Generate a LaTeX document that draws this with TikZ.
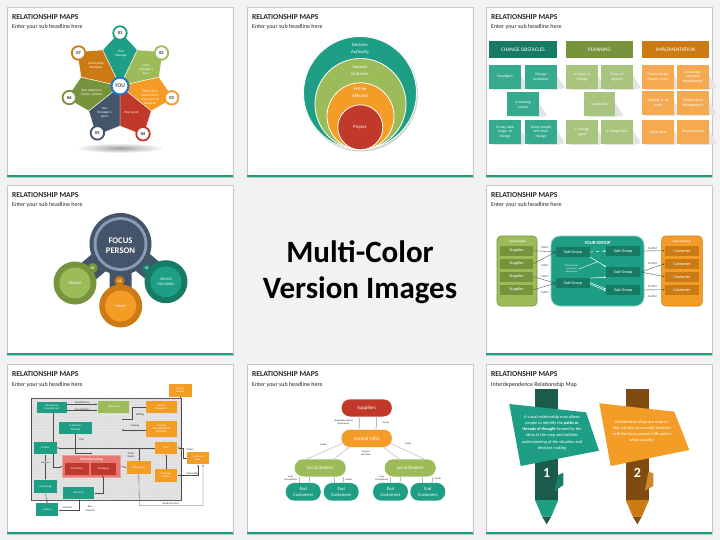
\documentclass[tikz,border=0pt]{standalone}
\usepackage{fontspec}
\setmainfont{Carlito}
\usetikzlibrary{arrows.meta,patterns}
\definecolor{bgc}{HTML}{F2F2F2}
\definecolor{cteal}{HTML}{1E9E84}
\definecolor{cdteal}{HTML}{167A65}
\definecolor{cvdteal}{HTML}{1B5B4C}
\definecolor{clgreen}{HTML}{9CBB59}
\definecolor{colive}{HTML}{77933C}
\definecolor{corange}{HTML}{F39C26}
\definecolor{cdorange}{HTML}{CC7A14}
\definecolor{cred}{HTML}{C0392B}
\definecolor{cnavy}{HTML}{44546A}
\definecolor{cslate}{HTML}{8A9BB5}
\definecolor{cbrown}{HTML}{7E4B10}
\definecolor{cblue}{HTML}{1F78C8}
\definecolor{cstripe}{HTML}{1BA085}
\definecolor{csalmon}{HTML}{E57872}
\definecolor{cpgreen}{HTML}{A9C47F}
\definecolor{cpteal}{HTML}{36AA8E}
\definecolor{cporange}{HTML}{F5AA52}
\definecolor{ctxt}{HTML}{262626}
\newcommand\myfs[2]{\fontsize{#1}{#2}\selectfont}
\newcommand\myslide[4]{%
  \fill[gray!28] (#2+1,#3+1) rectangle (#2+227,#3+171);
  \filldraw[fill=white,draw=gray!45,line width=0.4pt] (#2,#3) rectangle (#2+226,#3+170);
  \fill[cstripe] (#2+0.4,#3+167.6) rectangle (#2+225.6,#3+169.8);
  \node[ttl] (#1t) at (#2+5,#3+12.5) {RELATIONSHIP MAPS};
  \node[sbt] (#1s) at (#2+5,#3+22) {#4};}
\newcommand\cbx[6]{%
  \fill[gray!22] (#2+#4/2,#3-2) -- (#2+#4/2+8,#3+11) -- (#2+#4/2,#3+12.8) -- (#2-#4/2+3,#3+12.8) -- cycle;
  \node[fill=#5, minimum width=#4pt, minimum height=24pt, inner sep=0, text width=28pt, align=center, text=white, font=\myfs{3.7}{4.6}] (#1) at (#2,#3) {#6};}
\begin{document}
\begin{tikzpicture}[x=1pt,y=-1pt,
  ttl/.style={anchor=base west,inner sep=0pt,text=ctxt,font=\myfs{7.6}{8}\bfseries},
  sbt/.style={anchor=base west,inner sep=0pt,text=ctxt,font=\myfs{6}{7}},
  wt/.style={text=white,align=center,inner sep=0pt},
  numc/.style={circle,fill=white,line width=1.8pt,minimum size=13.5pt,inner sep=0pt,font=\myfs{4.4}{5}\bfseries,text=ctxt},
  lbl/.style={inner sep=0pt,text=ctxt,align=center,font=\myfs{2.6}{3.1}},
  ar/.style={draw=gray!60!black,line width=0.35pt,-{Latex[length=1.8pt,width=1.6pt]}},
  fc/.style={inner sep=0pt,text=white,align=center,font=\myfs{2.7}{3.2}},
  sg/.style={fill=cdteal,minimum width=34pt,minimum height=10pt,wt,font=\myfs{4.2}{5}},
  stad/.style={rounded corners=8.5pt,draw=white,line width=0.5pt,inner sep=0pt,text=white,align=center},
  ln/.style={draw=gray!55,line width=0.5pt}]
\useasboundingbox (0,0) rectangle (720,540);
\fill[bgc] (0,0) rectangle (720,540);

% ---------------- slide frames
\myslide{a}{7}{7}{Enter your sub headline here}
\myslide{b}{247}{7}{Enter your sub headline here}
\myslide{c}{486}{7}{Enter your sub headline here}
\myslide{d}{7}{185}{Enter your sub headline here}
\myslide{f}{486}{185}{Enter your sub headline here}
\myslide{g}{7}{364}{Enter your sub headline here}
\myslide{h}{247}{364}{Enter your sub headline here}
\myslide{i}{486}{364}{Interdependence Relationship Map}

% ---------------- centre text
\node[inner sep=0pt,font=\myfs{31}{36}\bfseries,text=black,anchor=base] (mc1) at (360,262) {Multi-Color};
\node[inner sep=0pt,font=\myfs{31}{36}\bfseries,text=black,anchor=base] (mc2) at (360,298) {Version Images};

% ---------------- slide 1: flower
\shade[inner color=gray!75,outer color=white] (120,148) ellipse (44 and 5);
\begin{scope}[shift={(120,86)},yscale=-1]
  \foreach \a/\c in {90/cteal,38.57/clgreen,-12.86/corange,-64.29/cred,-115.71/cnavy,-167.14/colive,141.43/cdorange}{
    \filldraw[fill=\c,draw=white,line width=0.4pt,line join=round] (0,0) -- (\a+25.71:40) -- (\a+6:49.5) -- (\a-6:49.5) -- (\a-25.71:40) -- cycle;}
  \node[wt,font=\myfs{3.3}{4}] (p1) at (88:32) {Your\\Manager};
  \node[wt,font=\myfs{3.3}{4}] (p2) at (33:31) {Your\\Manager's\\boss};
  \node[wt,font=\myfs{3.3}{4}] (p3) at (-20:32) {Others that\\need to be in\\your circle of\\influence};
  \node[wt,font=\myfs{3.3}{4}] (p4) at (-67:29) {Your peers};
  \node[wt,font=\myfs{3.3}{4}] (p5) at (-120:31) {Your\\Manager's\\peers};
  \node[wt,font=\myfs{3.3}{4}] (p6) at (-167:29) {Your customers,\\clients, vendors};
  \node[wt,font=\myfs{3.3}{4}] (p7) at (139:32) {Community\\Members};
  \node[numc,draw=cteal] (n1) at (90:53) {01};
  \node[numc,draw=clgreen] (n2) at (38.57:53) {02};
  \node[numc,draw=corange] (n3) at (-12.86:53) {03};
  \node[numc,draw=cred] (n4) at (-64.29:53) {04};
  \node[numc,draw=cnavy] (n5) at (-115.71:52) {05};
  \node[numc,draw=colive] (n6) at (-167.14:52) {06};
  \node[numc,draw=cdorange] (n7) at (141.43:53) {07};
  \node[circle,fill=white,draw=cblue,line width=2pt,minimum size=17pt,inner sep=0pt,font=\myfs{5.6}{6}\bfseries,text=cnavy] (you) at (0,0) {YOU};
\end{scope}

% ---------------- slide 2: nested circles
\fill[gray!35] (361,94.5) circle (57);
\filldraw[fill=cteal,draw=white,line width=0.8pt] (360,93) circle (56.5);
\filldraw[fill=clgreen,draw=white,line width=0.8pt] (360.5,104) circle (45.5);
\filldraw[fill=corange,draw=white,line width=0.8pt] (360.5,116.3) circle (33.5);
\filldraw[fill=cred,draw=white,line width=0.8pt] (360.3,127.3) circle (22.5);
\node[wt,font=\myfs{4.6}{7}] (q1) at (360,48.5) {Decision\\Authority};
\node[wt,font=\myfs{4.6}{7}] (q2) at (360,70.5) {Impacts\\Outcome};
\node[wt,font=\myfs{4.6}{7}] (q3) at (360,92.5) {Will be\\Affected};
\node[wt,font=\myfs{4.6}{7}] (q4) at (360,127) {Project};

% ---------------- slide 3: columns
\node[fill=cdteal,minimum width=68pt,minimum height=17pt,wt,font=\myfs{5.3}{6}] (h1) at (523,49.5) {CHANGE OBSTACLES};
\node[fill=colive,minimum width=67pt,minimum height=17pt,wt,font=\myfs{5.3}{6}] (h2) at (599.5,49.5) {PLANNING};
\node[fill=cdorange,minimum width=67pt,minimum height=17pt,wt,font=\myfs{5.3}{6}] (h3) at (675.5,49.5) {IMPLEMENTATION};
\cbx{b11}{505}{77}{31.7}{cpteal}{Paradigms}
\cbx{b12}{541}{77}{31.7}{cpteal}{Change\\resistance}
\cbx{b13}{523}{104.5}{31.7}{cpteal}{A blaming\\culture}
\cbx{b14}{505}{132}{31.7}{cpteal}{It may take\\longer to\\change}
\cbx{b15}{541}{132}{31.7}{cpteal}{Some people\\will never\\change}
\cbx{b21}{582}{77}{31.7}{cpgreen}{A vision to\\change}
\cbx{b22}{617}{77}{31.7}{cpgreen}{Sense of\\urgency}
\cbx{b23}{599.5}{104.5}{31.7}{cpgreen}{Leadership}
\cbx{b24}{582}{132}{31.7}{cpgreen}{A change\\agent}
\cbx{b25}{617}{132}{31.7}{cpgreen}{A change plan}
\cbx{b31}{658}{77}{31.7}{cporange}{Communicate\\Change vision}
\cbx{b32}{693}{77}{31.7}{cporange}{Encourage\\personal\\development}
\cbx{b33}{658}{103}{31.7}{cporange}{Training at all\\levels}
\cbx{b34}{693}{103}{31.7}{cporange}{Performance\\Management}
\cbx{b35}{658}{132}{31.7}{cporange}{Quick Wins}
\cbx{b36}{693}{132}{31.7}{cporange}{Empowerment}

% ---------------- slide 4: focus person
\draw[cnavy,line width=22pt] (120.5,244) -- (75,283);
\draw[cnavy,line width=22pt] (120.5,244) -- (120.7,306);
\draw[cnavy,line width=22pt] (120.5,244) -- (166,281.7);
\fill[cnavy] (120.5,244) circle (31);
\fill[cslate] (120.5,244) circle (27);
\fill[cnavy] (120.5,244) circle (24);
\node[wt,font=\myfs{8.6}{9.5}\bfseries] (fp) at (120.5,245.5) {FOCUS\\PERSON};
\fill[colive] (75,283) circle (21.5);
\fill[clgreen] (75,283) circle (15.5);
\fill[cdorange] (120.7,306) circle (21.5);
\fill[corange] (120.7,306) circle (15.5);
\fill[cdteal] (166,281.7) circle (21.5);
\fill[cteal] (166,281.7) circle (15.5);
\node[wt,font=\myfs{3.6}{4.3}] (fr) at (75,283) {FRIENDS};
\node[wt,font=\myfs{3.6}{4.3}] (fa) at (120.7,306) {FAMILY};
\node[wt,font=\myfs{3.6}{4.3}] (sv) at (166,281.7) {SERVICE\\PROVIDERS};
\node[circle,fill=colive,minimum size=10pt,inner sep=0pt,font=\myfs{3.8}{4}\bfseries,text=white] (bd1) at (92.7,268) {01};
\node[circle,fill=cdorange,minimum size=10pt,inner sep=0pt,font=\myfs{3.8}{4}\bfseries,text=white] (bd2) at (119.5,281) {02};
\node[circle,fill=cdteal,minimum size=10pt,inner sep=0pt,font=\myfs{3.8}{4}\bfseries,text=white] (bd3) at (146.7,268.7) {03};

% ---------------- slide 6: your group
\filldraw[fill=clgreen,draw=colive,line width=0.6pt,rounded corners=4pt] (497,236) rectangle (537,306);
\filldraw[fill=cteal,draw=cteal!50!white,line width=0.8pt,rounded corners=9pt] (551,236) rectangle (644,306);
\filldraw[fill=corange,draw=cdorange,line width=0.6pt,rounded corners=4pt] (661.7,236) rectangle (702.3,306);
\node[wt,font=\myfs{2.4}{3}\bfseries] (ysu) at (517,241.5) {YOUR SUPPLIERS};
\node[wt,font=\myfs{4.6}{5}\bfseries] (ygr) at (597.5,242.7) {YOUR GROUP};
\node[wt,font=\myfs{2.4}{3}\bfseries] (ycu) at (682,241.5) {YOUR CUSTOMERS};
\foreach \i/\yy in {1/250.7,2/263.7,3/276.7,4/289.7}{
  \node[fill=colive,minimum width=33pt,minimum height=10pt,wt,font=\myfs{4.3}{5}] (sp\i) at (516.7,\yy) {Supplier};
  \node[fill=cdorange,minimum width=34pt,minimum height=10pt,wt,font=\myfs{4.3}{5}] (cu\i) at (682,\yy) {Customer};}
\node[sg] (sg1) at (573,252) {Sub-Group};
\node[sg] (sg2) at (623.3,251) {Sub-Group};
\node[sg] (sg3) at (623.3,272) {Sub-Group};
\node[sg] (sg4) at (573,283.3) {Sub-Group};
\node[sg] (sg5) at (623.3,290) {Sub-Group};
\node[wt,font=\myfs{2.4}{3}] (rel) at (571.7,269.3) {Relationships\\inside your\\department};
\draw[white,line width=0.5pt,dashed,-{Latex[length=2pt,width=1.8pt]}] (sg1.east) -- (sg2.west);
\draw[white,line width=0.5pt,-{Latex[length=2pt,width=1.8pt]}] (sg1.south east) -- (sg3.north west);
\draw[white,line width=0.5pt,-{Latex[length=2pt,width=1.8pt]}] (sg4.north east) -- (sg3.south west);
\draw[white,line width=0.5pt,-{Latex[length=2pt,width=1.8pt]}] ([yshift=-0.8pt]sg4.east) -- ([yshift=-0.8pt]sg5.west);
\draw[white,line width=0.5pt,-{Latex[length=2pt,width=1.8pt]}] ([yshift=0.8pt]sg4.east) -- ([yshift=0.8pt]sg5.west);
\draw[white,line width=0.4pt,-{Latex[length=1.6pt,width=1.5pt]}] (rel.east) -- (598,261.5);
\draw[ar] (sp1.east) -- (sg1.west);
\draw[ar] (sp2.east) -- (sg1.west);
\draw[ar] (sp3.east) -- (sg4.west);
\draw[ar] (sp4.east) -- (sg4.west);
\draw[ar] (sg2.east) -- (cu1.west);
\draw[ar] (sg3.east) -- (cu2.west);
\draw[ar] (sg3.east) -- (cu3.west);
\draw[ar] (sg5.east) -- (cu4.west);
\node[lbl] (in1) at (545,247.7) {INPUT};
\node[lbl] (in2) at (545,266) {INPUT};
\node[lbl] (in3) at (545,276.7) {INPUT};
\node[lbl] (in4) at (545,292.3) {INPUT};
\node[lbl] (ou1) at (652.7,248.3) {OUTPUT};
\node[lbl] (ou2) at (652.7,264) {OUTPUT};
\node[lbl] (ou3) at (652.7,286.7) {OUTPUT};
\node[lbl] (ou4) at (652.7,296.3) {OUTPUT};

% ---------------- slide 7: flow chart
\filldraw[fill=gray!22,draw=gray!60!black,line width=1pt] (31.7,398.3) rectangle (181,500);
\fill[pattern=dots,pattern color=gray!50] (31.7,398.3) rectangle (181,500);
\coordinate (stf) at (121.7,419.3);
\coordinate (trn) at (121.7,430);
\coordinate (lmb) at (180.3,398.3);
\draw[ar] (53.3,412.7) -- (53.3,466.7) -- (62.3,466.7);
\node[fc,fill=cteal,minimum width=29.4pt,minimum height=11pt] (rd) at (52,407.2) {Research \&\\Development};
\node[fc,fill=clgreen,minimum width=31.6pt,minimum height=12.3pt] (mk) at (113.5,407.2) {Marketing};
\node[fc,fill=corange,minimum width=31.6pt,minimum height=12.3pt] (hr) at (161.5,407.2) {Human\\Resources};
\node[fc,fill=corange,minimum width=22.7pt,minimum height=12.7pt] (lm) at (180.3,390.3) {Labour\\Market};
\node[fc,fill=cteal,minimum width=32.4pt,minimum height=12.3pt] (pp) at (75.5,427.8) {Production\\Planning};
\node[fc,fill=corange,minimum width=31.6pt,minimum height=15.7pt] (tde) at (161.5,428.8) {Training\\Development \&\\Education};
\node[fc,fill=cteal,minimum width=22.4pt,minimum height=12.6pt] (fin) at (45.5,448) {Finance};
\node[fc,fill=corange,minimum width=22.3pt,minimum height=12.6pt] (sal) at (166.2,448) {Sales};
\node[fc,fill=corange,minimum width=22.6pt,minimum height=12.6pt] (cb) at (198,458) {Customer\\Base};
\node[fill=csalmon,draw=csalmon!70!white,line width=0.6pt,minimum width=58.4pt,minimum height=22.7pt,inner sep=0pt] (mf) at (91.5,466.3) {};
\node[wt,font=\myfs{3.8}{4}] (mft) at (91.5,459.3) {Manufacturing};
\node[fc,fill=cred,minimum width=24pt,minimum height=12.3pt] (pr) at (77,468.8) {Production};
\node[fc,fill=cred,minimum width=24.7pt,minimum height=12.3pt] (pk) at (103.3,468.8) {Packaging};
\node[fc,fill=corange,minimum width=24.3pt,minimum height=13pt] (di) at (138.8,467.5) {Distribution};
\node[fc,fill=corange,minimum width=22.3pt,minimum height=12.4pt] (cs) at (166.2,475.5) {Customer\\Service};
\node[fc,fill=cteal,minimum width=22.4pt,minimum height=13.3pt] (pu) at (45.5,486.7) {Purchasing};
\node[fc,fill=cteal,minimum width=31pt,minimum height=12.3pt] (rc) at (78.8,492.8) {Receiving};
\node[fc,fill=cteal,minimum width=22.3pt,minimum height=12.7pt] (ve) at (47.2,509.7) {Vendors};
\draw[ar] (rd.east |- 0,404.3) -- (mk.west |- 0,404.3);
\draw[ar] (rd.east |- 0,410.6) -- (mk.west |- 0,410.6);
\draw[ln,draw=gray!60!black,line width=0.35pt] (lm.south) -- (lmb);
\draw[ar] (hr.west) -- (131.7,407.2) -- (131.7,419.3) -- (stf);
\draw[ar] (tde.west |- trn) -- (trn);
\draw[ar] (pp.south) -- (75.5,452.7) -- (91,452.7) -- (mf.north -| 91,0);
\draw[ar] (sal.west) -- (fin.east);
\draw[ar] (139.3,448) -- (139.3,461);
\draw[ar] (mf.east) -- (di.west);
\draw[ar] (cs.north) -- (sal.south);
\draw[ar] (cb.west) -- (183,458) |- (sal.east);
\draw[ar] (cs.east) -- (198,475.5) -- (cb.south);
\draw[ar] (di.south) -- (139.3,505.7) -- (203,505.7) -- (203,464.3);
\draw[ar] (fin.south) -- (pu.north);
\draw[ar] (pu.south) -- (ve.north);
\draw[ar] (ve.east) -- (79.3,509.7) -- (rc.south -| 79.3,0);
\draw[ar] (rc.east) -- (102.7,492.8) -- (pk.south -| 102.7,0);
\node[lbl,anchor=south] (l1) at (82.2,404) {Specifications};
\node[lbl,anchor=south] (l2) at (82.2,410.3) {New Products};
\node[lbl] (l3) at (140,415) {Staffing};
\node[lbl] (l4) at (135,425.7) {Training};
\node[lbl] (l5) at (81.7,440) {Plan};
\node[lbl] (l6) at (131,455) {Finish\\Goods};
\node[lbl,fill=gray!22] (l7) at (45.5,462.3) {Invoices};
\node[lbl] (l8) at (190,449.3) {Orders};
\node[lbl] (l9) at (192.7,473.3) {Information};
\node[lbl] (l10) at (170.7,503.3) {Goods/Services};
\node[lbl] (l11) at (67.7,507.3) {Material};
\node[lbl] (l12) at (90,508.7) {Raw\\Material};

% ---------------- slide 8: hierarchy
\node[stad,fill=cred,minimum width=51pt,minimum height=17.7pt,font=\myfs{5}{6}] (su) at (366.7,407.9) {Suppliers};
\node[stad,fill=corange,minimum width=51pt,minimum height=18pt,font=\myfs{5}{6}] (cm) at (366.7,438.3) {Central MFG};
\node[stad,fill=clgreen,minimum width=51.7pt,minimum height=17.7pt,font=\myfs{5}{6}] (ld1) at (320.2,467.9) {Local Dealers};
\node[stad,fill=clgreen,minimum width=51.7pt,minimum height=17.7pt,font=\myfs{5}{6}] (ld2) at (410.2,467.9) {Local Dealers};
\foreach \k/\xx in {1/303.3,2/341.2,3/390.5,4/427.8}{
  \node[stad,fill=cteal,minimum width=35.5pt,minimum height=18.3pt,font=\myfs{4.6}{5.8}] (ec\k) at (\xx,491.8) {End\\Customers};}
\draw[ln,{Latex[length=1.8pt,width=1.6pt]}-{Latex[length=1.8pt,width=1.6pt]}] (su.south -| 359,0) -- (cm.north -| 359,0);
\draw[ln,-{Latex[length=1.8pt,width=1.6pt]}] (su.south -| 376,0) -- (cm.north -| 376,0);
\node[lbl,font=\myfs{2.4}{3}] (n8a) at (343.5,422.7) {Negotiations about\\Agreements};
\node[lbl,font=\myfs{2.4}{3}] (n8b) at (386,422.7) {Goods};
\draw[ln,-{Latex[length=1.8pt,width=1.6pt]}] (343,443) -- (307,459);
\draw[ln,-{Latex[length=1.8pt,width=1.6pt]}] (334,459) -- (349,447.3);
\draw[ln,-{Latex[length=1.8pt,width=1.6pt]}] (399,459) -- (384,447.3);
\draw[ln,-{Latex[length=1.8pt,width=1.6pt]}] (390,443) -- (424,459);
\node[lbl,font=\myfs{2.4}{3}] (n8c) at (323.3,445) {Goods};
\node[lbl,font=\myfs{2.4}{3}] (n8d) at (366,452.8) {Progress\\and orders};
\node[lbl,font=\myfs{2.4}{3}] (n8e) at (408.3,443.3) {Goods};
\foreach \xa/\xb in {299.3/309,334.3/343.3,390.7/400,422.7/432.3}{
  \draw[ln,-{Latex[length=1.6pt,width=1.5pt]}] (\xa,482.7) -- (\xa,476.8);
  \draw[ln,-{Latex[length=1.6pt,width=1.5pt]}] (\xb,476.8) -- (\xb,482.7);}
\node[lbl,font=\myfs{2.4}{3},anchor=east] (n8f) at (297.5,478.5) {Sales\\Consultations};
\node[lbl,font=\myfs{2.4}{3},anchor=west] (n8g) at (345.5,479.3) {Goods};
\node[lbl,font=\myfs{2.4}{3},anchor=east] (n8h) at (388.5,478) {Sales\\Consultations};
\node[lbl,font=\myfs{2.4}{3},anchor=west] (n8i) at (434.5,478.3) {Goods};

% ---------------- slide 9: pencils
\fill[cvdteal] (535,389.3) rectangle (558.3,500);
\fill[cteal] (535,500) -- (558.3,500) -- (551.2,516.7) -- (542.1,516.7) -- cycle;
\fill[cvdteal] (542.1,516.7) -- (551.2,516.7) -- (546.7,524.3) -- cycle;
\fill[cteal!80!black] (558.3,475) -- (563.3,472.7) -- (563.3,485) -- (554,491.7) -- cycle;
\fill[cteal] (509.3,404) -- (586,412.3) -- (599,450.7) -- (520.7,466) -- cycle;
\fill[cbrown] (625.7,389.3) rectangle (649,500);
\fill[cdorange] (625.7,500) -- (649,500) -- (641.8,516.7) -- (632.8,516.7) -- cycle;
\fill[cbrown] (632.8,516.7) -- (641.8,516.7) -- (637.3,524.3) -- cycle;
\fill[cdorange!90!white] (648.3,471.7) -- (653.3,473.3) -- (653.3,486) -- (645,490.7) -- cycle;
\fill[corange] (599.3,403.3) -- (674.3,411.7) -- (689.3,450) -- (610.7,466) -- cycle;
\node[wt,font=\myfs{4.3}{6.1}] (tx1) at (552,432.8) {A visual relationship map allows\\people to identify the \textbf{paths or}\\\textbf{threads of thought} formed by the\\ideas in the map and facilities\\understanding of the situation and\\decision making};
\node[wt,font=\myfs{4.3}{5.8}] (tx2) at (641.7,431.3) {Relationship Maps are used to\\find out who is currently involved\\with the focus person's life and in\\what capacity};
\node[wt,font=\myfs{14}{14}\bfseries] (nm1) at (546.7,473.3) {1};
\node[wt,font=\myfs{14}{14}\bfseries] (nm2) at (637.3,473.3) {2};
\end{tikzpicture}
\end{document}
